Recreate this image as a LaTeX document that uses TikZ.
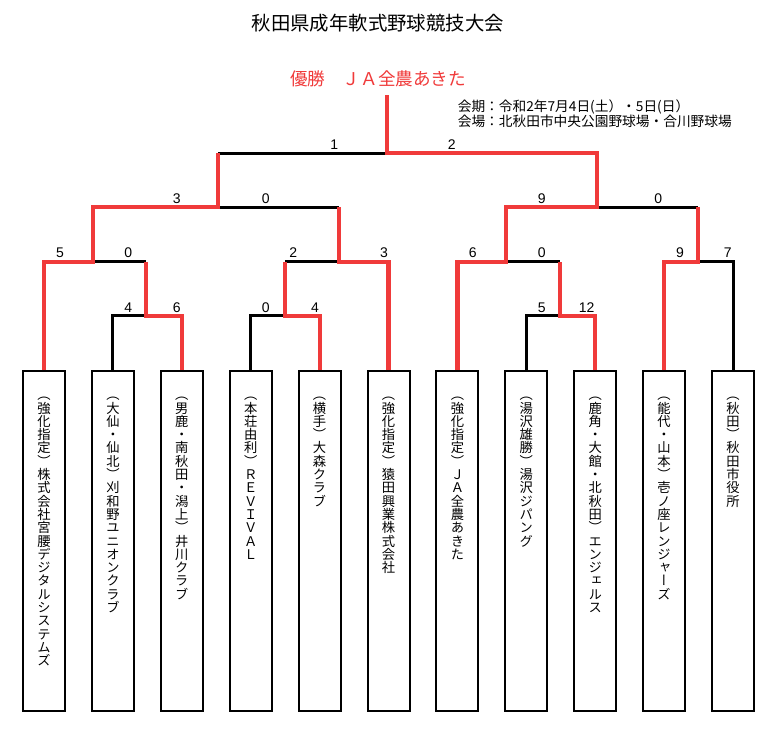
\documentclass[tikz,border=0pt]{standalone}
\usepackage{fontspec}
\setmainfont{Liberation Sans}
\newfontfamily\jp{Noto Sans CJK JP}
\newfontfamily\tatefont[RawFeature=+vert]{Noto Sans CJK JP}
\usetikzlibrary{positioning}
\definecolor{winred}{RGB}{240,58,58}

% vertical (tategaki) column, one cell per character
\newlength\tw \setlength\tw{13.3pt}
\def\ka{ka}\def\kb{kb}\def\hs{hs}\def\tateend{tateend}
\newcommand\tatefull[1]{\hbox to\tw{\hss\vrule height .88\tw depth .12\tw width 0pt\relax#1\hss}}
\newcommand\tatehalfa{\hbox to\tw{\hss\vrule height .38\tw depth .12\tw width 0pt\relax\smash{（}\hss}}
\newcommand\tatehalfb{\hbox to\tw{\hss\vrule height .5\tw depth 0pt width 0pt\relax\smash{\lower .38\tw\hbox{）}}\hss}}
\newcommand\tatehalfs{\hbox to\tw{\vrule height .5\tw depth 0pt width 0pt\relax\hss}}
\def\tateloop#1{%
  \ifx#1\tateend\let\tatenext\relax
  \else\let\tatenext\tateloop
    \ifx#1\ka\tatehalfa\else
    \ifx#1\kb\tatehalfb\else
    \ifx#1\hs\tatehalfs\else
    \tatefull{#1}\fi\fi\fi
  \fi\tatenext}
\newcommand\tate[1]{\vbox{\offinterlineskip\tatefont\fontsize{13.3}{13.3}\selectfont\tateloop#1\tateend}}

\begin{document}
\begin{tikzpicture}[x=1pt,y=-1pt,
  team/.style={draw,line width=2pt,minimum width=42pt,minimum height=340pt,anchor=north,inner sep=0pt},
  teamname/.style={inner sep=0pt,anchor=north},
  score/.style={inner sep=0pt,font=\fontsize{14}{14}\selectfont},
  lose/.style={line width=3pt},
  win/.style={line width=4.2pt,winred},
]
\useasboundingbox (0,0) rectangle (782,730);

\node (title) at (377.8,23) {\jp\fontsize{19.4}{20}\selectfont 秋田県成年軟式野球競技大会};
\node (winner) [text=winred] at (378,79) {\jp\fontsize{17.6}{18}\selectfont 優勝　ＪＡ全農あきた};
\node (info1) [anchor=base west,inner sep=0pt] at (457.6,111.9) {\jp\fontsize{13.7}{15}\selectfont 会期：令和2年7月4日(土）・5日(日）};
\node (info2) [anchor=base west,inner sep=0pt] at (457.6,126.9) {\jp\fontsize{13.7}{15}\selectfont 会場：北秋田市中央公園野球場・合川野球場};

% teams
\node (t1) [team] at (44,370) {};
\node (t2) [team] at (112.9,370) {};
\node (t3) [team] at (181.8,370) {};
\node (t4) [team] at (250.7,370) {};
\node (t5) [team] at (319.6,370) {};
\node (t6) [team] at (388.5,370) {};
\node (t7) [team] at (457.4,370) {};
\node (t8) [team] at (526.3,370) {};
\node (t9) [team] at (595.2,370) {};
\node (t10) [team] at (664.1,370) {};
\node (t11) [team] at (733,370) {};

\node (n1) [teamname,below=24.5pt of t1.north] {\tate{\ka 強化指定\kb\hs 株式会社宮腰デジタルシステムズ}};
\node (n2) [teamname,below=24.5pt of t2.north] {\tate{\ka 大仙・仙北\kb\hs 刈和野ユニオンクラブ}};
\node (n3) [teamname,below=24.5pt of t3.north] {\tate{\ka 男鹿・南秋田・潟上\kb\hs 井川クラブ}};
\node (n4) [teamname,below=24.5pt of t4.north] {\tate{\ka 本荘由利\kb\hs ＲＥＶＩＶＡＬ}};
\node (n5) [teamname,below=24.5pt of t5.north] {\tate{\ka 横手\kb\hs 大森クラブ}};
\node (n6) [teamname,below=24.5pt of t6.north] {\tate{\ka 強化指定\kb\hs 猿田興業株式会社}};
\node (n7) [teamname,below=24.5pt of t7.north] {\tate{\ka 強化指定\kb\hs ＪＡ全農あきた}};
\node (n8) [teamname,below=24.5pt of t8.north] {\tate{\ka 湯沢雄勝\kb\hs 湯沢ジパング}};
\node (n9) [teamname,below=24.5pt of t9.north] {\tate{\ka 鹿角・大館・北秋田\kb\hs エンジェルス}};
\node (n10) [teamname,below=24.5pt of t10.north] {\tate{\ka 能代・山本\kb\hs 壱ノ座レンジャーズ}};
\node (n11) [teamname,below=24.5pt of t11.north] {\tate{\ka 秋田\kb\hs 秋田市役所}};

% match points
\coordinate (m1) at (145.7,315.7);
\coordinate (m2) at (92.7,261.7);
\coordinate (m3) at (285,315.7);
\coordinate (m4) at (339.3,261.7);
\coordinate (m5) at (218.3,207.3);
\coordinate (m6) at (560,315.7);
\coordinate (m7) at (506,261.7);
\coordinate (m8) at (698.3,261.7);
\coordinate (m9) at (596.7,207.3);
\coordinate (final) at (386.7,153.3);
\coordinate (champ) at (386.7,95);

\draw[lose] (t2.north) |- (m1);
\draw[lose] (t4.north) |- (m3);
\draw[lose] (t8.north) |- (m6);
\draw[lose] (t11.north) |- (m8);
\draw[lose] (m1 |- m2) -- (m2);
\draw[lose] (m3 |- m4) -- (m4);
\draw[lose] (m6 |- m7) -- (m7);
\draw[lose] (m4 |- m5) -- (m5);
\draw[lose] (m8 |- m9) -- (m9);
\draw[lose] (m5 |- final) -- (final);

\draw[win] (t3.north) |- (m1) -- (m1 |- m2);
\draw[win] (t5.north) |- (m3) -- (m3 |- m4);
\draw[win] (t9.north) |- (m6) -- (m6 |- m7);
\draw[win] (t10.north) |- (m8) -- (m8 |- m9);
\draw[win] (t6.north) |- (m4) -- (m4 |- m5);
\draw[win] (t1.north) |- (m2) -- (m2 |- m5) -- (m5) -- (m5 |- final);
\draw[win] (t7.north) |- (m7) -- (m7 |- m9) -- (m9) -- (m9 |- final) -- (final) -- (champ);

% scores
\node (s1) [score] at (334.3,144.3) {1};
\node (s2) [score] at (451.7,144.3) {2};
\node (s3) [score] at (176.7,198.3) {3};
\node (s4) [score] at (265.7,198.3) {0};
\node (s5) [score] at (541.7,198.3) {9};
\node (s6) [score] at (658.3,198.3) {0};
\node (s7) [score] at (60,252.3) {5};
\node (s8) [score] at (128.3,252.3) {0};
\node (s9) [score] at (293.3,252.3) {2};
\node (s10) [score] at (384,252.3) {3};
\node (s11) [score] at (472.7,252.3) {6};
\node (s12) [score] at (541.7,252.3) {0};
\node (s13) [score] at (680,252.3) {9};
\node (s14) [score] at (727.7,252.3) {7};
\node (s15) [score] at (128.3,307.7) {4};
\node (s16) [score] at (176.7,307.7) {6};
\node (s17) [score] at (265.7,307.7) {0};
\node (s18) [score] at (315,307.7) {4};
\node (s19) [score] at (541.7,307.7) {5};
\node (s20) [score] at (586.7,307.7) {12};
\end{tikzpicture}
\end{document}
